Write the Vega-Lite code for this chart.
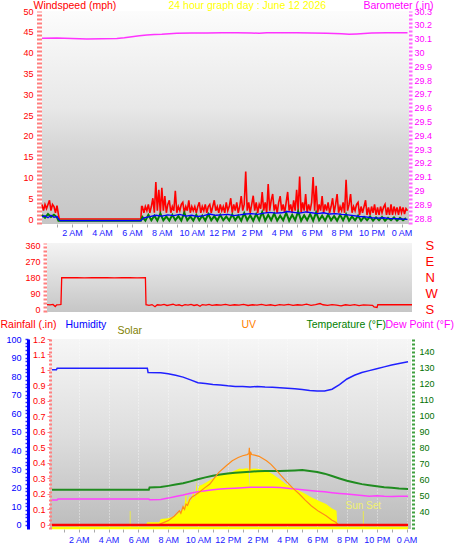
{
  "$schema": "https://vega.github.io/schema/vega-lite/v6.json",
  "padding": 0,
  "background": "#ffffff",
  "config": {
    "font": "Liberation Sans",
    "view": {"stroke": null},
    "axis": {
      "labelFontSize": 9,
      "titleFontSize": 10.5,
      "titleFontWeight": "normal",
      "titleAngle": 0,
      "titleAlign": "left",
      "titleBaseline": "middle",
      "labelOverlap": false,
      "labelFlush": false,
      "grid": false
    }
  },
  "datasets": {
    "gust": [
      {"h":0,"v":3.5},{"h":0.1,"v":2},{"h":0.2,"v":3.5},{"h":0.3,"v":2.5},{"h":0.4,"v":3.5},{"h":0.5,"v":4.5},{"h":0.6,"v":2},{"h":0.7,"v":3.5},{"h":0.8,"v":3},{"h":0.9,"v":1.5},{"h":1.0,"v":3.2},{"h":1.1,"v":1},{"h":1.15,"v":0},{"h":6.6,"v":0},{"h":6.65,"v":3},
      {"h":6.7,"v":3},{"h":6.8,"v":1.5},{"h":6.9,"v":3},{"h":7.0,"v":2},{"h":7.1,"v":3.5},{"h":7.2,"v":1.5},{"h":7.3,"v":3},{"h":7.4,"v":5},{"h":7.5,"v":1.5},{"h":7.6,"v":8.9},{"h":7.7,"v":2},{"h":7.8,"v":7},{"h":7.9,"v":1.5},{"h":8.0,"v":7.5},{"h":8.1,"v":2},{"h":8.2,"v":5.5},{"h":8.3,"v":1.5},{"h":8.4,"v":3.5},{"h":8.5,"v":4.5},{"h":8.6,"v":1.5},{"h":8.7,"v":3},{"h":8.8,"v":2},{"h":8.9,"v":6.8},{"h":9.0,"v":1.5},{"h":9.1,"v":3},{"h":9.2,"v":2},{"h":9.3,"v":3.5},{"h":9.4,"v":4},{"h":9.5,"v":1.5},{"h":9.6,"v":3},{"h":9.7,"v":2},{"h":9.8,"v":4.5},{"h":9.9,"v":1.5},
      {"h":10.0,"v":3},{"h":10.1,"v":2},{"h":10.2,"v":3},{"h":10.3,"v":1.5},{"h":10.4,"v":3},{"h":10.5,"v":4},{"h":10.6,"v":1.5},{"h":10.7,"v":3},{"h":10.8,"v":2},{"h":10.9,"v":3.5},{"h":11.0,"v":1.5},{"h":11.1,"v":3},{"h":11.2,"v":3.5},{"h":11.3,"v":1.5},{"h":11.4,"v":3},{"h":11.5,"v":4.5},{"h":11.6,"v":2},{"h":11.7,"v":3},{"h":11.8,"v":1.5},{"h":11.9,"v":3.5},
      {"h":12.0,"v":2},{"h":12.1,"v":3},{"h":12.2,"v":1.5},{"h":12.3,"v":4},{"h":12.4,"v":2},{"h":12.5,"v":3},{"h":12.6,"v":5},{"h":12.7,"v":1.5},{"h":12.8,"v":3.5},{"h":12.9,"v":2},{"h":13.0,"v":4},{"h":13.1,"v":1.5},{"h":13.2,"v":3},{"h":13.3,"v":5.5},{"h":13.4,"v":2},{"h":13.5,"v":3.5},{"h":13.6,"v":11.4},{"h":13.7,"v":2},{"h":13.8,"v":4},{"h":13.9,"v":1.5},
      {"h":14.0,"v":3.5},{"h":14.1,"v":5.6},{"h":14.2,"v":2},{"h":14.3,"v":4},{"h":14.4,"v":1.5},{"h":14.5,"v":3.5},{"h":14.6,"v":2.5},{"h":14.7,"v":6.5},{"h":14.8,"v":2},{"h":14.9,"v":4},{"h":15.0,"v":1.5},{"h":15.1,"v":8.4},{"h":15.2,"v":2},{"h":15.3,"v":4.5},{"h":15.4,"v":6},{"h":15.5,"v":2},{"h":15.6,"v":3.5},{"h":15.7,"v":1.5},{"h":15.8,"v":4},{"h":15.9,"v":5.5},
      {"h":16.0,"v":2},{"h":16.1,"v":3.5},{"h":16.2,"v":1.5},{"h":16.3,"v":4},{"h":16.4,"v":6.5},{"h":16.5,"v":2},{"h":16.6,"v":3.5},{"h":16.7,"v":1.5},{"h":16.8,"v":4.5},{"h":16.9,"v":2},{"h":17.0,"v":7},{"h":17.1,"v":2},{"h":17.2,"v":10.2},{"h":17.3,"v":1.5},{"h":17.4,"v":4},{"h":17.5,"v":2},{"h":17.6,"v":6},{"h":17.7,"v":1.5},{"h":17.8,"v":3.5},{"h":17.9,"v":2},
      {"h":18.0,"v":4},{"h":18.1,"v":10.1},{"h":18.2,"v":2},{"h":18.3,"v":8},{"h":18.4,"v":1.5},{"h":18.5,"v":3.5},{"h":18.6,"v":2},{"h":18.7,"v":5.5},{"h":18.8,"v":1.5},{"h":18.9,"v":3.5},{"h":19.0,"v":2},{"h":19.1,"v":4},{"h":19.2,"v":1.5},{"h":19.3,"v":3},{"h":19.4,"v":5},{"h":19.5,"v":1.5},{"h":19.6,"v":3.5},{"h":19.7,"v":6},{"h":19.8,"v":1.5},{"h":19.9,"v":3},
      {"h":20.0,"v":2},{"h":20.1,"v":4},{"h":20.2,"v":1.5},{"h":20.3,"v":9.4},{"h":20.4,"v":2},{"h":20.5,"v":3.5},{"h":20.6,"v":6},{"h":20.7,"v":1.5},{"h":20.8,"v":3},{"h":20.9,"v":2},{"h":21.0,"v":3.5},{"h":21.1,"v":4},{"h":21.2,"v":1},{"h":21.3,"v":3},{"h":21.4,"v":1.5},{"h":21.5,"v":3},{"h":21.6,"v":4.5},{"h":21.7,"v":1},{"h":21.8,"v":2.8},{"h":21.9,"v":1},
      {"h":22.0,"v":3},{"h":22.1,"v":1.5},{"h":22.2,"v":3.5},{"h":22.3,"v":1},{"h":22.4,"v":2.8},{"h":22.5,"v":1},{"h":22.6,"v":3},{"h":22.7,"v":1.5},{"h":22.8,"v":2.8},{"h":22.9,"v":3.5},{"h":23.0,"v":1},{"h":23.1,"v":2.8},{"h":23.2,"v":1},{"h":23.3,"v":3.5},{"h":23.4,"v":1},{"h":23.5,"v":3},{"h":23.6,"v":1.5},{"h":23.7,"v":2.8},{"h":23.8,"v":1},{"h":23.9,"v":3},
      {"h":24.0,"v":1.5},{"h":24.1,"v":2.8},{"h":24.2,"v":1.2},{"h":24.3,"v":2.5},{"h":24.4,"v":2}
    ],
    "wind": [
      {"h":0,"v":1},{"h":0.2,"v":0.3},{"h":0.4,"v":1.2},{"h":0.6,"v":0.5},{"h":0.8,"v":1},{"h":1.0,"v":0.4},{"h":1.1,"v":-0.4},{"h":6.6,"v":-0.4},
      {"h":6.7,"v":0.5},{"h":6.9,"v":-0.4},{"h":7.1,"v":1.0},{"h":7.3,"v":-0.3},{"h":7.5,"v":0.8},{"h":7.7,"v":-0.4},{"h":7.9,"v":1.3},{"h":8.1,"v":-0.3},{"h":8.3,"v":0.6},{"h":8.5,"v":-0.4},{"h":8.7,"v":1.0},{"h":8.9,"v":-0.3},{"h":9.1,"v":0.7},{"h":9.3,"v":-0.4},{"h":9.5,"v":1.5},{"h":9.7,"v":-0.3},{"h":9.9,"v":0.6},
      {"h":10.1,"v":-0.4},{"h":10.3,"v":1.0},{"h":10.5,"v":-0.3},{"h":10.7,"v":0.8},{"h":10.9,"v":-0.4},{"h":11.1,"v":1.2},{"h":11.3,"v":-0.3},{"h":11.5,"v":0.7},{"h":11.7,"v":-0.4},{"h":11.9,"v":1.0},{"h":12.1,"v":-0.3},{"h":12.3,"v":0.6},{"h":12.5,"v":-0.4},{"h":12.7,"v":1.1},{"h":12.9,"v":-0.3},{"h":13.1,"v":0.8},{"h":13.3,"v":-0.4},{"h":13.5,"v":1.4},{"h":13.7,"v":-0.3},{"h":13.9,"v":0.9},
      {"h":14.1,"v":-0.4},{"h":14.3,"v":1.2},{"h":14.5,"v":-0.3},{"h":14.7,"v":1.7},{"h":14.9,"v":-0.4},{"h":15.1,"v":1.0},{"h":15.3,"v":-0.3},{"h":15.5,"v":1.3},{"h":15.7,"v":-0.4},{"h":15.9,"v":0.8},{"h":16.1,"v":-0.3},{"h":16.3,"v":1.5},{"h":16.5,"v":-0.4},{"h":16.7,"v":1.0},{"h":16.9,"v":-0.3},{"h":17.1,"v":1.8},{"h":17.3,"v":-0.4},{"h":17.5,"v":0.9},{"h":17.7,"v":-0.3},{"h":17.9,"v":1.2},
      {"h":18.1,"v":-0.4},{"h":18.3,"v":1.6},{"h":18.5,"v":-0.3},{"h":18.7,"v":0.8},{"h":18.9,"v":-0.4},{"h":19.1,"v":1.1},{"h":19.3,"v":-0.3},{"h":19.5,"v":0.7},{"h":19.7,"v":-0.4},{"h":19.9,"v":1.0},{"h":20.1,"v":-0.3},{"h":20.3,"v":1.2},{"h":20.5,"v":-0.4},{"h":20.7,"v":0.6},{"h":20.9,"v":-0.3},{"h":21.1,"v":0.8},{"h":21.3,"v":-0.4},{"h":21.5,"v":0.5},{"h":21.7,"v":-0.3},{"h":21.9,"v":0.6},
      {"h":22.1,"v":-0.4},{"h":22.3,"v":0.4},{"h":22.5,"v":-0.3},{"h":22.7,"v":0.5},{"h":22.9,"v":-0.4},{"h":23.1,"v":0.3},{"h":23.3,"v":-0.3},{"h":23.5,"v":0.4},{"h":23.7,"v":-0.4},{"h":23.9,"v":0.3},{"h":24.1,"v":-0.3},{"h":24.3,"v":0.2}
    ],
    "avg": [
      {"h":0,"v":0.5},{"h":0.2,"v":0.8},{"h":0.4,"v":0.3},{"h":0.6,"v":0.9},{"h":0.8,"v":0.4},{"h":1.0,"v":0.6},{"h":1.1,"v":0},{"h":1.2,"v":-0.4},{"h":6.6,"v":-0.4},{"h":6.8,"v":0.3},{"h":7.2,"v":0.6},{"h":7.6,"v":0.9},{"h":8.0,"v":0.7},{"h":8.4,"v":1.0},{"h":8.8,"v":0.8},{"h":9.2,"v":1.1},{"h":9.6,"v":0.7},{"h":10.0,"v":0.9},{"h":10.4,"v":0.6},{"h":10.8,"v":0.8},{"h":11.2,"v":1.2},{"h":11.6,"v":0.9},{"h":12.0,"v":1.0},{"h":12.4,"v":1.1},{"h":12.8,"v":0.8},{"h":13.2,"v":1.0},{"h":13.6,"v":1.2},{"h":14.0,"v":1.3},{"h":14.4,"v":1.1},{"h":14.8,"v":1.4},{"h":15.2,"v":1.6},{"h":15.6,"v":1.4},{"h":16.0,"v":1.5},{"h":16.4,"v":1.8},{"h":16.8,"v":1.6},{"h":17.2,"v":1.4},{"h":17.6,"v":1.7},{"h":18.0,"v":1.5},{"h":18.4,"v":1.3},{"h":18.8,"v":1.5},{"h":19.2,"v":1.2},{"h":19.6,"v":1.3},{"h":20.0,"v":1.1},{"h":20.4,"v":1.0},{"h":20.8,"v":0.8},{"h":21.2,"v":0.6},{"h":21.6,"v":0.5},{"h":22.0,"v":0.3},{"h":22.4,"v":0.2},{"h":22.8,"v":0.3},{"h":23.2,"v":0.1},{"h":23.6,"v":0.1},{"h":24.0,"v":0},{"h":24.4,"v":-0.1}
    ],
    "baro": [
      {"h":0,"v":30.102},{"h":1,"v":30.104},{"h":2,"v":30.1},{"h":3,"v":30.098},{"h":4,"v":30.099},{"h":5,"v":30.1},{"h":5.5,"v":30.106},{"h":6,"v":30.114},{"h":6.5,"v":30.12},{"h":7,"v":30.126},{"h":7.5,"v":30.13},{"h":8,"v":30.132},{"h":8.5,"v":30.136},{"h":9,"v":30.138},{"h":10,"v":30.141},{"h":11,"v":30.141},{"h":12,"v":30.142},{"h":13,"v":30.142},{"h":14,"v":30.141},{"h":14.5,"v":30.138},{"h":15,"v":30.142},{"h":16,"v":30.142},{"h":17,"v":30.142},{"h":18,"v":30.141},{"h":19,"v":30.139},{"h":19.5,"v":30.137},{"h":20,"v":30.135},{"h":20.5,"v":30.132},{"h":21,"v":30.134},{"h":22,"v":30.14},{"h":23,"v":30.142},{"h":24.4,"v":30.142}
    ],
    "dir": [
      {"h":0,"v":25},{"h":0.2,"v":23},{"h":0.4,"v":26},{"h":0.55,"v":14},{"h":0.65,"v":24},{"h":0.85,"v":25},{"h":0.93,"v":26},{"h":0.98,"v":178},{"h":1.5,"v":177},{"h":2,"v":178},{"h":2.5,"v":176},{"h":3,"v":177},{"h":3.5,"v":178},{"h":4,"v":177},{"h":4.5,"v":176},{"h":5,"v":178},{"h":5.5,"v":177},{"h":6,"v":176},{"h":6.56,"v":177},{"h":6.6,"v":24},{"h":6.8,"v":21},{"h":7,"v":25},{"h":7.2,"v":13},{"h":7.35,"v":24},{"h":7.6,"v":22},{"h":7.8,"v":26},{"h":8,"v":20},{"h":8.2,"v":24},{"h":8.4,"v":27},{"h":8.6,"v":21},{"h":8.8,"v":24},{"h":9,"v":18},{"h":9.2,"v":25},{"h":9.4,"v":22},{"h":9.6,"v":26},{"h":9.8,"v":20},{"h":10,"v":24},{"h":10.2,"v":15},{"h":10.35,"v":25},{"h":10.6,"v":22},{"h":10.8,"v":26},{"h":11,"v":21},{"h":11.3,"v":24},{"h":11.6,"v":22},{"h":11.9,"v":26},{"h":12.2,"v":21},{"h":12.5,"v":24},{"h":12.8,"v":22},{"h":13.1,"v":26},{"h":13.4,"v":20},{"h":13.7,"v":24},{"h":14,"v":22},{"h":14.3,"v":26},{"h":14.6,"v":21},{"h":14.9,"v":24},{"h":15.2,"v":19},{"h":15.5,"v":25},{"h":15.8,"v":22},{"h":16.1,"v":26},{"h":16.4,"v":21},{"h":16.7,"v":24},{"h":17,"v":22},{"h":17.3,"v":27},{"h":17.6,"v":21},{"h":17.9,"v":25},{"h":18.2,"v":31},{"h":18.4,"v":24},{"h":18.7,"v":21},{"h":19,"v":25},{"h":19.3,"v":22},{"h":19.6,"v":18},{"h":19.9,"v":24},{"h":20.2,"v":21},{"h":20.5,"v":25},{"h":20.8,"v":19},{"h":21.1,"v":23},{"h":21.4,"v":22},{"h":21.7,"v":21},{"h":21.8,"v":12},{"h":22,"v":9},{"h":22.05,"v":24},{"h":23,"v":24},{"h":24.33,"v":24}
    ],
    "hum": [
      {"h":0.2,"v":83.5},{"h":0.5,"v":83.5},{"h":0.55,"v":84.3},{"h":6.6,"v":84.3},{"h":6.65,"v":82},{"h":7.5,"v":81.8},{"h":8,"v":81.3},{"h":8.5,"v":80.5},{"h":9,"v":79.5},{"h":9.5,"v":78},{"h":10,"v":76.5},{"h":10.5,"v":76},{"h":11,"v":75.5},{"h":11.5,"v":75.2},{"h":12,"v":74.8},{"h":12.5,"v":74.5},{"h":13,"v":74.5},{"h":13.5,"v":74.2},{"h":14,"v":74.5},{"h":14.5,"v":74.2},{"h":15,"v":74},{"h":15.5,"v":73.8},{"h":16,"v":73.5},{"h":16.5,"v":73.2},{"h":17,"v":72.8},{"h":17.5,"v":72.3},{"h":18,"v":72},{"h":18.5,"v":72},{"h":19,"v":73},{"h":19.5,"v":75.5},{"h":20,"v":78.5},{"h":20.5,"v":80.5},{"h":21,"v":82},{"h":21.5,"v":83},{"h":22,"v":84},{"h":22.5,"v":85},{"h":23,"v":86},{"h":23.5,"v":86.8},{"h":24.1,"v":87.8}
    ],
    "temp": [
      {"h":0.2,"v":53.8},{"h":6.7,"v":53.8},{"h":6.75,"v":55.2},{"h":7.5,"v":55.5},{"h":8,"v":56.2},{"h":8.5,"v":57},{"h":9,"v":57.8},{"h":9.5,"v":59},{"h":10,"v":60.3},{"h":10.5,"v":61.5},{"h":11,"v":62.5},{"h":11.5,"v":63.3},{"h":12,"v":63.9},{"h":12.5,"v":64.3},{"h":13,"v":64.6},{"h":13.5,"v":65},{"h":14,"v":65.3},{"h":14.5,"v":65.4},{"h":15,"v":65.5},{"h":15.5,"v":65.5},{"h":16,"v":65.6},{"h":16.5,"v":65.8},{"h":17,"v":66},{"h":17.5,"v":65.5},{"h":18,"v":64.8},{"h":18.5,"v":63.8},{"h":19,"v":62.3},{"h":19.5,"v":60.8},{"h":20,"v":59.4},{"h":20.5,"v":58.3},{"h":21,"v":57.3},{"h":21.5,"v":56.6},{"h":22,"v":56},{"h":22.5,"v":55.4},{"h":23,"v":55},{"h":23.5,"v":54.5},{"h":24.1,"v":54.3}
    ],
    "dew": [
      {"h":0.2,"v":47.5},{"h":0.55,"v":47.5},{"h":0.6,"v":48.1},{"h":6.7,"v":48.1},{"h":6.75,"v":47.6},{"h":7.5,"v":47.8},{"h":8,"v":48.6},{"h":8.5,"v":49.6},{"h":9,"v":50.5},{"h":9.5,"v":51.6},{"h":10,"v":52.5},{"h":10.5,"v":53.2},{"h":11,"v":53.8},{"h":11.5,"v":54.2},{"h":12,"v":54.5},{"h":12.5,"v":54.8},{"h":13,"v":55},{"h":13.5,"v":55.3},{"h":14,"v":55.4},{"h":14.5,"v":55.4},{"h":15,"v":55.3},{"h":15.5,"v":55.2},{"h":16,"v":54.8},{"h":16.5,"v":54.3},{"h":17,"v":53.8},{"h":17.5,"v":53.3},{"h":18,"v":52.9},{"h":18.5,"v":52.5},{"h":19,"v":52},{"h":19.5,"v":51.5},{"h":20,"v":51.1},{"h":20.5,"v":50.7},{"h":21,"v":50.2},{"h":21.5,"v":49.8},{"h":22,"v":50},{"h":22.5,"v":49.7},{"h":23,"v":49.6},{"h":23.5,"v":49.8},{"h":24.1,"v":49.7}
    ],
    "solar": [
      {"h":6.5,"v":0},{"h":6.6,"v":40},{"h":7.4,"v":40},{"h":7.5,"v":90},{"h":8.0,"v":100},{"h":8.5,"v":140},{"h":8.8,"v":200},{"h":9.0,"v":240},{"h":9.1,"v":300},{"h":9.2,"v":516},{"h":9.25,"v":330},{"h":9.35,"v":380},{"h":9.45,"v":440},{"h":9.5,"v":350},{"h":9.6,"v":420},{"h":9.7,"v":520},{"h":9.75,"v":400},{"h":9.85,"v":480},{"h":9.9,"v":667},{"h":9.95,"v":480},{"h":10.05,"v":560},{"h":10.1,"v":590},{"h":10.3,"v":610},{"h":10.6,"v":647},{"h":10.9,"v":690},{"h":11.2,"v":723},{"h":11.6,"v":760},{"h":12,"v":785},{"h":12.3,"v":800},{"h":12.6,"v":830},{"h":12.8,"v":850},{"h":13,"v":845},{"h":13.2,"v":855},{"h":13.4,"v":850},{"h":13.45,"v":560},{"h":13.5,"v":845},{"h":13.8,"v":850},{"h":14.2,"v":840},{"h":14.6,"v":815},{"h":15,"v":768},{"h":15.5,"v":690},{"h":15.9,"v":617},{"h":16.4,"v":560},{"h":16.8,"v":516},{"h":17.2,"v":470},{"h":17.6,"v":417},{"h":18.1,"v":365},{"h":18.6,"v":316},{"h":19,"v":250},{"h":19.3,"v":215},{"h":19.35,"v":20},{"h":20,"v":8},{"h":20.1,"v":0}
    ],
    "uv": [
      {"h":7.3,"v":0},{"h":7.6,"v":0.2},{"h":8,"v":0.45},{"h":8.4,"v":0.9},{"h":8.75,"v":1.46},{"h":8.85,"v":1.2},{"h":9,"v":1.9},{"h":9.1,"v":1.6},{"h":9.2,"v":2.15},{"h":9.3,"v":2.0},{"h":9.45,"v":2.6},{"h":9.6,"v":2.86},{"h":9.85,"v":3.1},{"h":10.1,"v":3.37},{"h":10.45,"v":3.8},{"h":10.8,"v":4.19},{"h":11.1,"v":4.8},{"h":11.4,"v":5.38},{"h":11.9,"v":6.06},{"h":12.3,"v":6.57},{"h":12.7,"v":6.9},{"h":13,"v":7.08},{"h":13.3,"v":7.2},{"h":13.42,"v":7.3},{"h":13.45,"v":7.9},{"h":13.48,"v":5.5},{"h":13.52,"v":7.5},{"h":13.6,"v":7.2},{"h":13.8,"v":7.15},{"h":14.1,"v":7.02},{"h":14.6,"v":6.57},{"h":14.9,"v":6.2},{"h":15.2,"v":5.72},{"h":15.55,"v":5.1},{"h":15.9,"v":4.52},{"h":16.35,"v":3.8},{"h":16.8,"v":3.17},{"h":17.2,"v":2.55},{"h":17.6,"v":1.97},{"h":18.1,"v":1.4},{"h":18.6,"v":0.95},{"h":19,"v":0.5},{"h":19.25,"v":0.28},{"h":19.45,"v":0}
    ],
    "rain": [
      {"h":0.2,"v":0,"s":"a"},{"h":24.1,"v":0,"s":"a"},{"h":0.2,"v":-0.02,"s":"b"},{"h":24.1,"v":-0.02,"s":"b"}
    ],
    "sun": [
      {"h":5.45,"t":""},{"h":21.1,"t":"Sun Set"}
    ],
    "frame": [
      {"x0":0,"x1":24.5,"y0":-1.2,"y1":50,"a0":-17,"a1":374,"b1":24.33}
    ]
  },
  "columns": 1,
  "spacing": 1,
  "concat": [
    {
      "width": 359,
      "height": 213,
      "encoding": {
        "x": {
          "field": "h", "type": "quantitative",
          "scale": {"domain": [0, 24.5], "nice": false, "zero": false, "range": [-8, 359]},
          "axis": {
            "values": [1,2,3,4,5,6,7,8,9,10,11,12,13,14,15,16,17,18,19,20,21,22,23,24],
            "labelExpr": "datum.value % 2 != 0 ? '' : datum.value == 24 ? '0 AM' : datum.value < 12 ? datum.value + ' AM' : datum.value == 12 ? '12 PM' : (datum.value - 12) + ' PM'",
            "labelColor": "#2020ff", "labelPadding": 1,
            "tickColor": "#a8a8a8", "tickSize": 3,
            "domain": false,
            "grid": true, "gridColor": "#ffffff", "gridDash": [1, 2],
            "gridOpacity": {"condition": {"test": "datum.value % 2 == 0", "value": 0.7}, "value": 0},
            "title": " ", "titleX": 0, "titleY": 3, "titleBaseline": "top", "titleFontSize": 11
          }
        }
      },
      "layer": [
        {
          "data": {"name": "frame"},
          "mark": {"type": "rect", "fill": {"gradient": "linear", "x1": 0, "y1": 0, "x2": 0, "y2": 1, "stops": [{"offset": 0, "color": "#fcfcfc"}, {"offset": 0.45, "color": "#e8e8e8"}, {"offset": 0.66, "color": "#d4d4d4"}, {"offset": 1, "color": "#c6c6c6"}]}},
          "encoding": {
            "x": {"field": "x0", "type": "quantitative"},
            "x2": {"field": "x1"},
            "y": {"field": "y0", "type": "quantitative", "scale": {"domain": [-1.2, 50], "nice": false, "zero": false}, "axis": null},
            "y2": {"field": "y1"}
          }
        },
        {
          "data": {"name": "gust"},
          "mark": {"type": "line", "color": "#ff0000", "strokeWidth": 1.6},
          "encoding": {
            "y": {
              "field": "v", "type": "quantitative",
              "scale": {"domain": [-1.2, 50], "nice": false, "zero": false},
              "axis": {"orient": "left", "labels": false, "ticks": false, "domain": false, "title": "24 hour graph day : June 12 2026", "titleX": 118, "titleY": -6, "titleColor": "#ffff00"}
            }
          }
        },
        {
          "encoding": {
            "y": {
              "field": "v", "type": "quantitative",
              "scale": {"domain": [-1.2, 50], "nice": false, "zero": false},
              "axis": {
                "orient": "left", "values": [0,5,10,15,20,25,30,35,40,45,50], "offset": 11,
                "domainColor": "#ff8080", "domainWidth": 5, "domainDash": [2, 2],
                "ticks": false, "labelPadding": 6, "labelColor": "#ff0000",
                "title": "Windspeed (mph)", "titleX": -6, "titleY": -6, "titleColor": "#ff0000"
              }
            }
          },
          "layer": [
            {"data": {"name": "wind"}, "mark": {"type": "line", "color": "#008000", "strokeWidth": 2}},
            {"data": {"name": "avg"}, "mark": {"type": "line", "color": "#0000ff", "strokeWidth": 1.3}}
          ]
        },
        {
          "data": {"name": "baro"},
          "mark": {"type": "line", "color": "#ff33ff", "strokeWidth": 1.5},
          "encoding": {
            "y": {
              "field": "v", "type": "quantitative",
              "scale": {"domain": [28.757, 30.3], "nice": false, "zero": false},
              "axis": {
                "orient": "right", "values": [28.8,28.9,29,29.1,29.2,29.3,29.4,29.5,29.6,29.7,29.8,29.9,30,30.1,30.2,30.3], "format": "~g", "offset": 1,
                "domainColor": "#ff66ff", "domainWidth": 4, "domainDash": [2, 2],
                "ticks": false, "labelPadding": 4, "labelColor": "#ff00ff",
                "title": "Barometer (.in)", "titleX": -47, "titleY": -6, "titleColor": "#ff00ff"
              }
            }
          }
        }
      ],
      "resolve": {"scale": {"y": "independent"}}
    },
    {
      "width": 362,
      "height": 69,
      "encoding": {
        "x": {
          "field": "h", "type": "quantitative",
          "scale": {"domain": [0, 24.33], "nice": false, "zero": false, "range": [-3, 362]},
          "axis": {
            "values": [2,4,6,8,10,12,14,16,18,20,22,24],
            "labels": false, "ticks": false, "domain": false,
            "grid": true, "gridColor": "#ffffff", "gridDash": [1, 2], "gridOpacity": 0.7,
            "title": " ", "titleX": 0, "titleY": 0, "titleBaseline": "top", "titleFontSize": 5.5
          }
        }
      },
      "layer": [
        {
          "data": {"name": "frame"},
          "mark": {"type": "rect", "fill": {"gradient": "linear", "x1": 0, "y1": 0, "x2": 0, "y2": 1, "stops": [{"offset": 0, "color": "#f4f4f4"}, {"offset": 1, "color": "#c6c6c6"}]}},
          "encoding": {
            "x": {"field": "x0", "type": "quantitative"},
            "x2": {"field": "b1"},
            "y": {"field": "a0", "type": "quantitative", "scale": {"domain": [-17, 374], "nice": false, "zero": false}, "axis": null},
            "y2": {"field": "a1"}
          }
        },
        {
          "data": {"name": "dir"},
          "mark": {"type": "line", "color": "#ff0000", "strokeWidth": 1.3},
          "encoding": {
            "y": {
              "field": "v", "type": "quantitative",
              "scale": {"domain": [-17, 374], "nice": false, "zero": false},
              "axis": {
                "orient": "left", "values": [0, 90, 180, 270, 360], "offset": 5,
                "domainColor": "#ff8080", "domainWidth": 4, "domainDash": [2, 2],
                "ticks": false, "labelPadding": 5, "labelColor": "#ff0000", "title": null
              }
            }
          }
        },
        {
          "data": {"name": "dir"},
          "mark": {"type": "line", "opacity": 0},
          "encoding": {
            "y": {
              "field": "v", "type": "quantitative",
              "scale": {"domain": [-17, 374], "nice": false, "zero": false},
              "axis": {
                "orient": "right", "values": [0, 90, 180, 270, 360],
                "labelExpr": "['S','W','N','E','S'][round(datum.value / 90)]",
                "domain": false, "ticks": false, "labelPadding": 13, "labelFontSize": 13, "labelColor": "#ff0000", "title": null
              }
            }
          }
        }
      ],
      "resolve": {"scale": {"y": "independent"}}
    },
    {
      "width": 361,
      "height": 190,
      "view": {"fill": {"gradient": "linear", "x1": 0, "y1": 0, "x2": 0, "y2": 1, "stops": [{"offset": 0, "color": "#f6f6f6"}, {"offset": 0.5, "color": "#dedede"}, {"offset": 1, "color": "#bcbcbc"}]}},
      "encoding": {
        "x": {
          "field": "h", "type": "quantitative",
          "scale": {"domain": [0, 24.3], "nice": false, "zero": false, "range": [-1, 361]},
          "axis": {
            "values": [1,2,3,4,5,6,7,8,9,10,11,12,13,14,15,16,17,18,19,20,21,22,23,24],
            "labelExpr": "datum.value % 2 != 0 ? '' : datum.value == 24 ? '0 AM' : datum.value < 12 ? datum.value + ' AM' : datum.value == 12 ? '12 PM' : (datum.value - 12) + ' PM'",
            "labelColor": "#2020ff", "labelPadding": 3,
            "tickColor": "#a8a8a8", "tickSize": 3,
            "domain": false,
            "grid": true, "gridColor": "#ffffff", "gridDash": [1, 2],
            "gridOpacity": {"condition": {"test": "datum.value % 2 == 0", "value": 0.7}, "value": 0},
            "title": null
          }
        }
      },
      "layer": [
        {
          "data": {"name": "solar"},
          "mark": {"type": "area", "color": "#ffff00", "opacity": 1},
          "encoding": {
            "y": {
              "field": "v", "type": "quantitative",
              "scale": {"domain": [-60, 2800], "nice": false, "zero": false},
              "axis": {"orient": "left", "labels": false, "ticks": false, "domain": false, "title": "Solar", "titleX": 67, "titleY": -9, "titleColor": "#808000"}
            },
            "y2": {"datum": 0}
          }
        },
        {
          "data": {"name": "sun"},
          "mark": {"type": "rule", "color": "#e8e850", "strokeWidth": 1},
          "encoding": {
            "y": {"datum": 210, "type": "quantitative", "scale": {"domain": [-60, 2800], "nice": false, "zero": false}, "axis": null},
            "y2": {"datum": -60}
          }
        },
        {
          "data": {"name": "sun"},
          "mark": {"type": "text", "color": "#f0f070", "fontSize": 10, "baseline": "bottom", "align": "center"},
          "encoding": {
            "y": {"datum": 210, "type": "quantitative", "scale": {"domain": [-60, 2800], "nice": false, "zero": false}, "axis": null},
            "text": {"field": "t"}
          }
        },
        {
          "data": {"name": "hum"},
          "mark": {"type": "line", "color": "#2020ff", "strokeWidth": 1.5},
          "encoding": {
            "y": {
              "field": "v", "type": "quantitative",
              "scale": {"domain": [-2.2, 100], "nice": false, "zero": false},
              "axis": {
                "orient": "left", "offset": 22,
                "values": [0,2,4,6,8,10,12,14,16,18,20,22,24,26,28,30,32,34,36,38,40,42,44,46,48,50,52,54,56,58,60,62,64,66,68,70,72,74,76,78,80,82,84,86,88,90,92,94,96,98,100],
                "labelExpr": "datum.value % 10 == 0 ? datum.label : ''",
                "domainColor": "#0000ff", "domainWidth": 3,
                "tickColor": "#3030ff", "tickSize": 3, "tickWidth": 1.5,
                "labelPadding": 4, "labelColor": "#0000ff",
                "title": "Humidity", "titleX": 37, "titleY": -15, "titleColor": "#0000ff"
              }
            }
          }
        },
        {
          "data": {"name": "temp"},
          "mark": {"type": "line", "color": "#208c20", "strokeWidth": 2},
          "encoding": {
            "y": {
              "field": "v", "type": "quantitative",
              "scale": {"domain": [29.4, 147.5], "nice": false, "zero": false},
              "axis": {
                "orient": "right", "offset": 2, "values": [40,50,60,70,80,90,100,110,120,130,140],
                "domainColor": "#40a040", "domainWidth": 3, "domainDash": [2, 2],
                "ticks": false, "labelPadding": 6, "labelColor": "#007000",
                "title": "Temperature (°F)", "titleX": -107, "titleY": -15, "titleColor": "#008000"
              }
            }
          }
        },
        {
          "data": {"name": "dew"},
          "mark": {"type": "line", "color": "#ff40ff", "strokeWidth": 1.5},
          "encoding": {
            "y": {
              "field": "v", "type": "quantitative",
              "scale": {"domain": [29.4, 147.5], "nice": false, "zero": false},
              "axis": {"orient": "right", "labels": false, "ticks": false, "domain": false, "title": "Dew Point (°F)", "titleX": -26, "titleY": -15, "titleColor": "#ff00ff"}
            }
          }
        },
        {
          "data": {"name": "uv"},
          "mark": {"type": "line", "color": "#ff8c1a", "strokeWidth": 1.2},
          "encoding": {
            "y": {
              "field": "v", "type": "quantitative",
              "scale": {"domain": [-0.4, 19], "nice": false, "zero": false},
              "axis": {"orient": "left", "labels": false, "ticks": false, "domain": false, "title": "UV", "titleX": 191, "titleY": -15, "titleColor": "#ff8000"}
            }
          }
        },
        {
          "data": {"name": "rain"},
          "mark": {"type": "line", "strokeWidth": 2.5},
          "encoding": {
            "y": {
              "field": "v", "type": "quantitative",
              "scale": {"domain": [-0.026, 1.2], "nice": false, "zero": false},
              "axis": {
                "orient": "left", "values": [0,0.1,0.2,0.3,0.4,0.5,0.6,0.7,0.8,0.9,1,1.1,1.2], "format": "~g",
                "domainColor": "#ff8080", "domainWidth": 3, "domainDash": [2, 2],
                "tickColor": "#ff8080", "tickSize": 3, "labelPadding": 2, "labelColor": "#ff0000",
                "title": "Rainfall (.in)", "titleX": -50, "titleY": -15, "titleColor": "#ff0000"
              }
            },
            "color": {"field": "s", "type": "nominal", "scale": {"domain": ["a", "b"], "range": ["#ff0000", "#ffff00"]}, "legend": null},
            "detail": {"field": "s"}
          }
        }
      ],
      "resolve": {"scale": {"y": "independent"}}
    }
  ]
}
